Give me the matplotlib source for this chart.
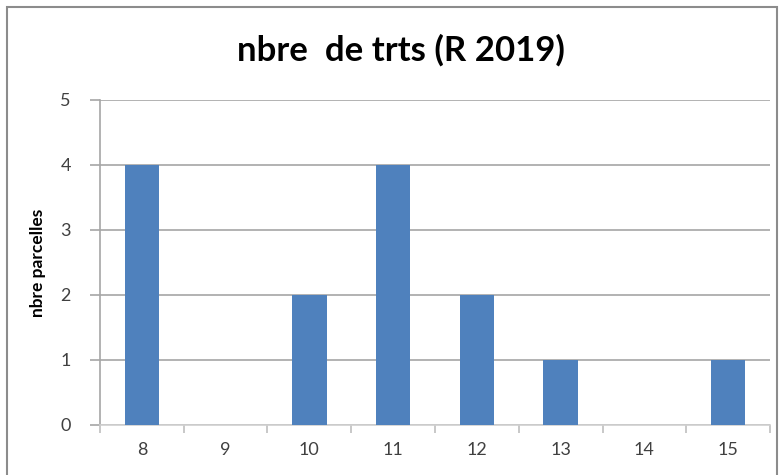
import matplotlib.pyplot as plt
from matplotlib.patches import Rectangle

# Données
categories = ['8', '9', '10', '11', '12', '13', '14', '15']
valeurs = [4, 0, 2, 4, 2, 1, 0, 1]
yticks = [0, 1, 2, 3, 4, 5]

plt.rcParams['font.family'] = ['Lato', 'DejaVu Sans']

fig = plt.figure(figsize=(7.81, 4.75), dpi=100)
ax = fig.add_axes([0.128, 0.1053, 0.858, 0.6842])

# Cadre du graphique (style Excel)
fig.patches.append(Rectangle((7 / 781, -0.02), 770 / 781, 1 - 7 / 475 + 0.02,
                             transform=fig.transFigure, fill=False,
                             edgecolor='#8c8c8c', linewidth=1.5))

x = list(range(len(categories)))
ax.bar(x, valeurs, width=0.41, color='#4f81bd', zorder=3)

ax.set_xlim(-0.5, len(categories) - 0.5)
ax.set_ylim(0, 5)
ax.set_yticks(yticks)
ax.yaxis.grid(True, color='#a6a6a6', linewidth=1.2, zorder=0)

ax.set_xticks(x)
ax.set_xticklabels(categories)
ax.set_xticks([i - 0.5 for i in range(len(categories) + 1)], minor=True)
ax.tick_params(axis='x', which='major', length=0, pad=12, labelsize=13, labelcolor='#404040')
ax.tick_params(axis='x', which='minor', length=6, color='#bfbfbf', width=1.2)
ax.tick_params(axis='y', length=7, color='#a6a6a6', width=1.2, pad=14,
               labelsize=13, labelcolor='#404040')

for s in ['top', 'right']:
    ax.spines[s].set_visible(False)
ax.spines['left'].set_color('#a6a6a6')
ax.spines['left'].set_linewidth(1.2)
ax.spines['bottom'].set_color('#d0d0d0')
ax.spines['bottom'].set_linewidth(1.2)

ax.set_ylabel('nbre parcelles', fontsize=12.5, fontweight='bold', labelpad=10)
fig.text(0.513, 0.895, 'nbre  de trts (R 2019)', ha='center', va='center',
         fontsize=25, fontweight='bold')

plt.savefig('out.png', dpi=100)
